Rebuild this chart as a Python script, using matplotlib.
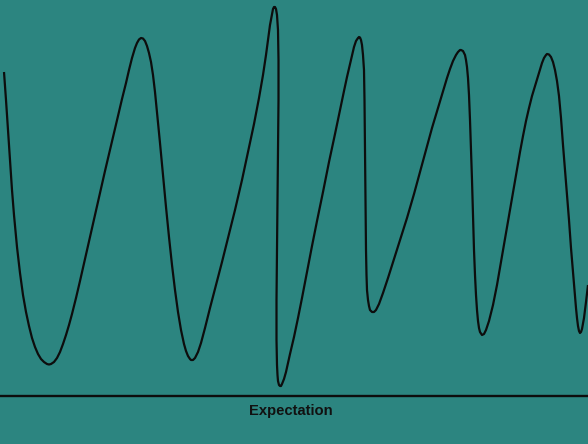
import matplotlib
matplotlib.use("Agg")
import matplotlib.pyplot as plt

# Curve: x position and vertical position (0 = top)
curve_x = [4, 6, 8, 10, 12, 14, 17, 20, 23, 26, 29, 32, 35, 38, 41, 44, 47, 49, 51, 54,
           57, 60, 63, 66, 69, 72, 76, 80, 85, 90, 95, 100, 105, 110, 114, 118, 122, 126, 129,
           132, 135, 137, 139, 141, 143, 145, 147, 149, 151, 153, 155, 157, 160, 163, 166,
           169, 172, 175, 178, 181, 184, 186, 188, 190, 191, 193, 195, 198, 201, 205, 210,
           215, 222, 228, 235, 242, 248, 254, 259, 263, 266, 268, 270, 272, 273, 274, 275,
           276, 277, 278, 278.5, 278.5, 278, 277.5, 277, 276.5, 276.5, 277, 277.5, 278, 279,
           280, 281, 282, 284, 286, 290, 294, 298, 302, 307, 312, 317, 323, 329, 335, 340,
           344, 347, 350, 352, 354, 356, 358, 359, 360, 361, 362, 363, 364, 364.5, 365,
           365.5, 366, 366.5, 367, 368, 369, 370, 372, 374, 376, 379, 383, 388, 394, 400,
           407, 414, 420, 426, 432, 438, 443, 447, 450, 453, 456, 458, 460, 461, 463, 465,
           466, 467, 468, 469, 470, 471, 472, 473, 474, 475, 476, 477, 478, 479, 480, 482,
           484, 486, 489, 493, 497, 501, 505, 510, 515, 520, 523, 526, 529, 532, 535, 538,
           540, 542, 544, 546, 547, 549, 551, 553, 555, 557, 559, 561, 563, 565, 567, 569,
           571, 573, 575, 576, 577, 578, 579, 580, 581, 582, 584, 586, 588]
curve_y = [72, 100, 130, 160, 190, 215, 247, 273, 295, 312, 326, 338, 347, 354, 359, 362, 364, 364.5, 364, 362,
           358, 352, 344, 335, 325, 314, 298, 281, 259, 237, 215, 193, 171, 150, 133, 116, 99, 83, 70,
           58, 48, 43, 39.5, 38, 38.5, 41, 46, 53, 62, 75, 92, 112, 143, 175, 207,
           237, 265, 290, 312, 330, 344, 351, 356, 359, 360, 360, 358, 352, 343, 328, 308,
           289, 262, 238, 210, 180, 152, 124, 98, 75, 55, 40, 25, 14, 9, 7, 7,
           9, 15, 30, 60, 100, 150, 200, 250, 300, 340, 365, 375, 381, 385,
           386, 386, 384, 379, 372, 354, 337, 318, 298, 272, 246, 221, 192, 162, 134, 110,
           91, 77, 64, 55, 47, 41, 38, 37, 37.5, 40, 45, 55, 70, 100, 150,
           200, 250, 275, 290, 300, 306, 310, 312, 312, 310, 304, 293, 278, 259, 240,
           218, 194, 172, 150, 128, 108, 91, 78, 69, 61, 55, 52, 50, 50, 51, 55,
           60, 67, 78, 95, 120, 150, 180, 215, 250, 275, 295, 310, 321, 328, 332, 335,
           334, 330, 321, 305, 285, 262, 239, 210, 181, 152, 136, 121, 108, 96, 86, 76,
           69, 63, 58, 55, 54, 54.5, 57, 62, 70, 81, 96, 118, 145, 170, 195, 220,
           248, 272, 295, 308, 318, 326, 331, 333, 332, 329, 318, 302, 285]

baseline_y = 396
label_text = "Expectation"

bg = "#2c8580"
fig = plt.figure(figsize=(5.88, 4.44), dpi=100, facecolor=bg)
ax = fig.add_axes([0, 0, 1, 1])
ax.set_facecolor(bg)
ax.plot(curve_x, curve_y, color="#0d0d0d", lw=1.6, solid_joinstyle="round",
        solid_capstyle="butt")
ax.axhline(baseline_y, color="#0d0d0d", lw=1.7)
ax.text(291, 411, label_text, ha="center", va="center", fontsize=10.6,
        fontweight="bold", family=["Liberation Sans", "DejaVu Sans"], color="#111111")
ax.set_xlim(0, 588)
ax.set_ylim(444, 0)
ax.axis("off")
fig.savefig("out.png", dpi=100, facecolor=bg)
